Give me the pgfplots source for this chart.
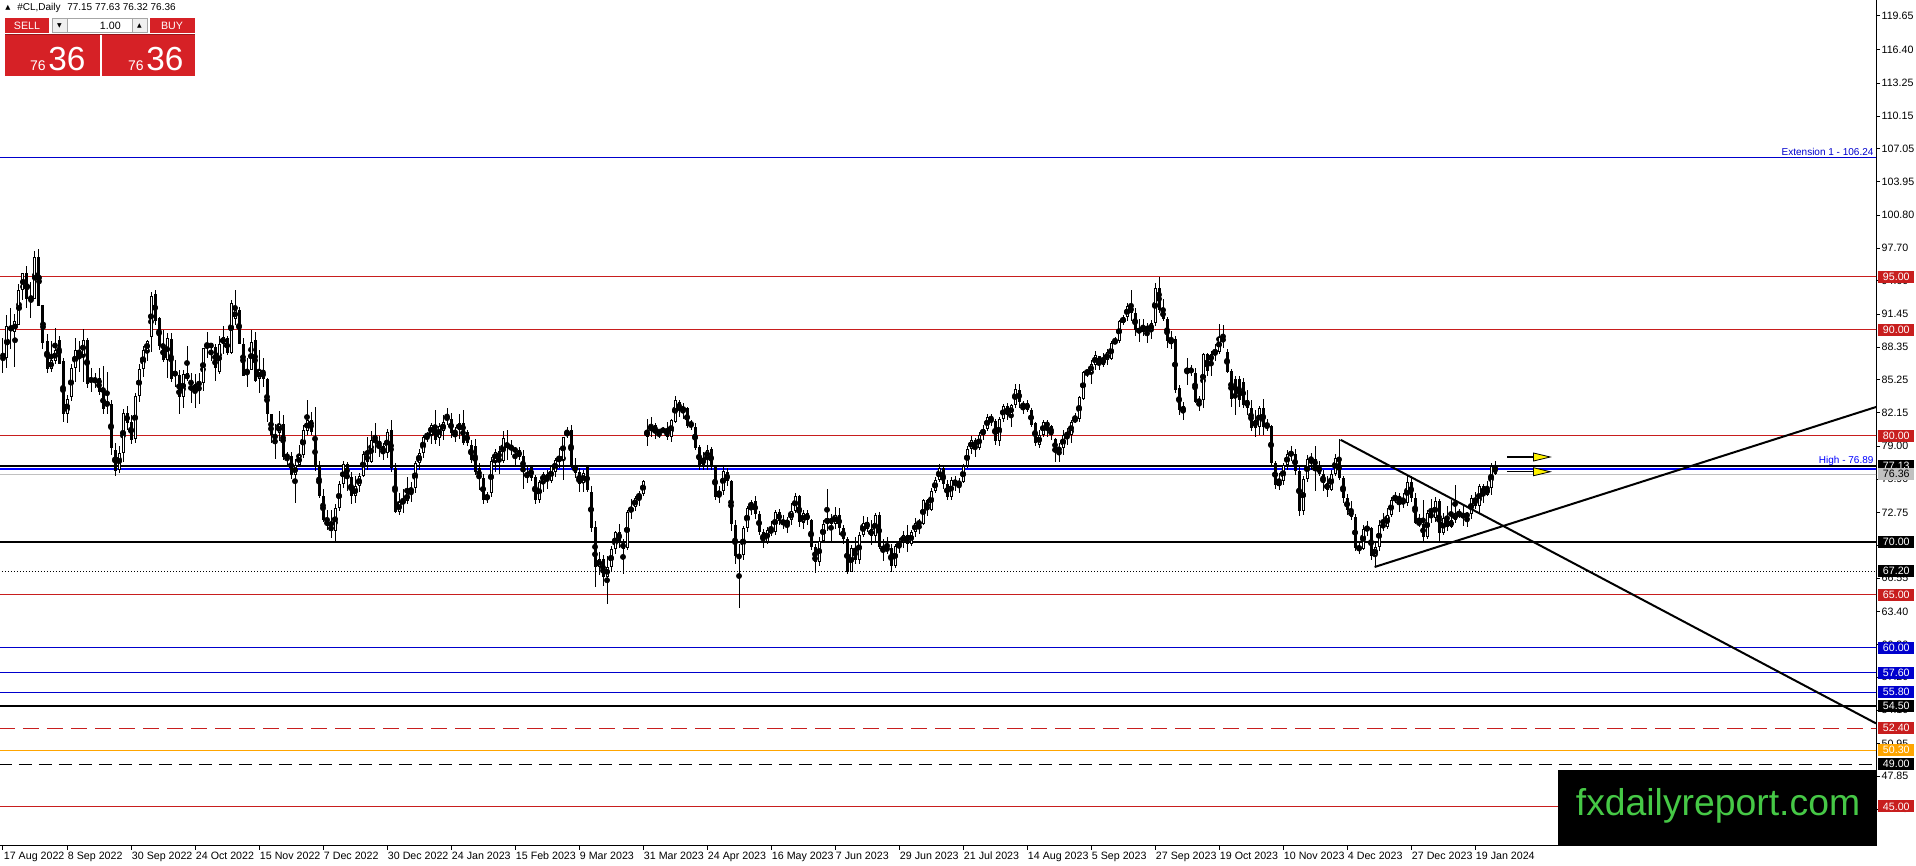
\documentclass[border=0pt]{standalone}
\usepackage{pgfplots}
\pgfplotsset{compat=1.18}
\usepackage{pgfplotstable}
\usepackage{fontspec}
\setmainfont{Liberation Sans}
\newfontfamily\dejavu{DejaVu Sans}
\definecolor{mtred}{RGB}{200,30,30}
\definecolor{panelred}{RGB}{214,33,38}
\definecolor{mtblue}{RGB}{0,0,205}
\definecolor{brblue}{RGB}{0,0,255}
\definecolor{wmgreen}{RGB}{70,200,70}
\definecolor{mtorange}{RGB}{255,165,0}
\definecolor{mtsilver}{RGB}{192,192,192}
\pgfplotstableread{
i o h l c
0 87.2 89.2 85.9 87.4
1 87.3 91.4 86.4 90.3
2 90.3 92.0 88.2 90.0
3 89.8 91.5 86.5 90.8
4 90.4 94.3 90.4 93.7
5 93.7 95.3 92.8 95.3
6 95.3 96.0 92.0 92.9
7 93.0 94.5 91.1 92.95
8 92.9 97.4 92.9 96.9
9 96.9 97.6 92.2 92.2
10 92.3 92.3 88.2 88.7
11 88.9 89.6 85.9 86.3
12 86.3 88.9 86.0 87.1
13 87.0 90.2 86.8 88.1
14 89.0 89.4 86.8 86.8
15 87.0 87.3 81.3 82.0
16 82.0 83.8 81.2 83.5
17 83.6 86.8 83.3 86.4
18 86.4 89.2 85.1 88.1
19 88.1 88.9 86.0 87.6
20 87.6 90.1 85.1 89.0
21 89.0 89.2 84.5 84.9
22 85.1 86.4 84.1 85.4
23 85.2 85.9 84.5 85.3
24 85.4 86.4 83.8 84.1
25 84.1 86.6 82.0 82.5
26 82.8 86.0 82.0 83.2
27 83.0 83.4 78.2 78.8
28 78.6 79.3 76.2 76.7
29 76.8 79.0 76.5 78.4
30 78.4 82.5 77.5 82.1
31 82.1 82.8 80.5 81.2
32 81.3 81.9 79.2 79.6
33 79.7 84.0 79.3 83.7
34 83.7 86.8 83.2 86.3
35 86.3 88.5 85.5 88.1
36 88.0 89.0 87.0 88.9
37 89.3 93.6 87.9 93.2
38 93.4 93.7 90.4 90.8
39 91.1 91.2 88.1 88.5
40 88.6 90.0 86.9 87.1
41 87.1 89.7 85.4 89.2
42 89.1 89.7 85.1 85.3
43 86.1 87.1 84.6 85.6
44 85.7 86.2 82.0 83.6
45 83.6 86.2 82.6 85.8
46 85.9 88.5 85.2 85.3
47 85.1 85.9 83.1 84.9
48 84.2 85.8 82.6 84.9
49 84.8 85.9 83.0 85.0
50 85.0 88.3 84.2 88.3
51 88.3 89.8 87.3 88.6
52 88.7 88.7 87.0 88.3
53 88.4 88.6 85.2 86.4
54 86.0 89.4 85.8 88.6
55 88.6 90.3 87.7 89.3
56 89.2 89.4 87.6 87.8
57 87.8 92.8 87.7 92.5
58 91.0 93.7 90.4 91.9
59 91.9 92.1 88.6 88.6
60 88.6 89.2 85.6 85.6
61 85.9 87.3 84.6 86.2
62 86.2 90.0 86.2 88.8
63 89.0 89.8 85.1 85.2
64 85.3 88.1 84.0 86.2
65 86.2 87.3 84.6 85.3
66 85.3 85.4 81.3 82.0
67 82.0 82.0 79.3 80.1
68 80.0 81.1 77.8 79.8
69 80.2 82.3 79.5 81.1
70 81.1 81.9 77.7 78.0
71 78.0 78.5 77.2 78.1
72 78.1 78.5 75.9 76.3
73 76.3 77.8 73.6 77.2
74 77.2 79.1 77.0 78.2
75 78.2 81.0 77.9 80.5
76 80.4 83.4 80.1 81.5
77 81.5 82.2 80.1 80.3
78 79.9 82.7 76.7 77.0
79 77.0 77.6 74.1 74.3
80 74.3 75.0 71.8 72.0
81 72.0 73.0 71.1 71.5
82 71.5 73.0 70.3 71.0
83 71.0 73.5 70.1 73.2
84 73.2 75.7 72.9 75.4
85 75.4 77.6 75.1 77.3
86 77.3 77.5 74.8 76.1
87 76.1 76.6 73.5 74.3
88 74.3 76.2 73.6 75.2
89 75.2 76.5 74.7 76.2
90 76.2 78.5 76.1 78.3
91 78.3 79.9 76.8 77.5
92 77.5 80.4 77.4 79.6
93 79.6 81.2 78.4 79.5
94 79.5 80.0 78.0 79.0
95 79.0 79.3 77.7 78.4
96 78.4 80.6 77.9 80.3
97 80.5 81.5 76.6 76.9
98 76.9 77.4 72.7 72.8
99 72.8 74.6 72.5 73.7
100 73.7 75.0 72.7 73.8
101 73.8 76.1 73.5 74.6
102 74.6 75.6 73.7 75.1
103 75.1 77.6 74.6 77.4
104 77.4 78.7 76.8 78.4
105 78.4 80.1 77.9 79.9
106 79.9 80.3 79.4 80.1
107 80.1 81.2 79.2 81.0
108 81.0 82.4 79.2 79.6
109 79.8 81.2 79.0 80.9
110 80.4 81.9 79.6 81.3
111 81.5 82.6 81.0 81.8
112 81.6 82.1 79.8 80.2
113 80.2 80.8 79.4 80.4
114 80.5 82.0 79.7 81.2
115 81.2 82.4 79.1 79.3
116 80.3 80.5 79.0 79.3
117 79.1 79.6 77.4 77.7
118 79.0 79.7 76.3 76.6
119 76.9 77.4 74.9 76.0
120 76.0 76.4 73.5 73.9
121 74.0 74.7 73.6 74.4
122 74.6 78.0 74.2 77.6
123 77.6 78.7 76.6 78.5
124 78.5 79.0 76.4 77.8
125 77.6 80.4 77.4 79.8
126 79.0 80.5 77.7 79.2
127 79.0 79.6 78.2 78.7
128 78.8 78.9 77.2 78.5
129 78.6 78.9 77.7 78.0
130 78.1 78.6 75.0 76.6
131 76.5 77.0 75.5 76.1
132 77.1 77.2 75.7 76.0
133 76.1 76.3 73.5 73.9
134 73.9 75.8 73.6 75.6
135 75.6 76.6 74.7 76.4
136 76.4 76.8 75.0 75.7
137 75.7 77.2 75.5 77.1
138 76.6 77.9 76.1 77.7
139 77.6 78.8 76.9 77.9
140 77.7 79.9 75.8 79.9
141 80.0 80.8 79.8 80.4
142 80.5 81.0 76.9 77.1
143 77.2 77.9 76.0 76.5
144 76.6 76.9 74.7 75.4
145 75.5 76.8 74.7 76.5
146 77.0 77.2 74.7 74.9
147 74.7 75.2 70.9 71.3
148 71.4 71.9 65.7 67.6
149 67.6 69.0 66.8 68.4
150 68.4 68.7 65.8 66.7
151 66.7 68.6 64.1 67.6
152 67.6 69.6 67.2 69.3
153 69.3 71.0 68.8 70.9
154 70.9 71.7 69.4 70.0
155 69.9 70.2 66.9 69.3
156 69.4 73.0 69.2 72.8
157 72.8 74.0 72.1 73.2
158 73.3 74.3 72.9 74.1
159 74.1 74.8 73.4 74.5
160 74.5 75.8 74.3 75.7
161 79.9 81.6 79.0 80.5
162 80.4 81.8 79.9 81.0
163 81.0 81.2 79.7 80.3
164 80.4 80.5 79.8 80.35
165 80.4 80.8 80.2 80.6
166 80.5 81.3 79.6 79.9
167 79.9 81.6 79.4 81.5
168 81.3 83.7 81.2 83.4
169 83.2 83.4 81.8 82.4
170 82.3 83.1 81.6 82.7
171 82.6 82.7 80.7 80.9
172 81.3 81.5 80.5 80.9
173 80.8 81.2 78.6 78.8
174 78.9 79.1 76.8 77.1
175 77.2 78.5 76.8 77.9
176 77.9 79.1 76.8 78.6
177 78.7 78.9 76.8 77.1
178 77.1 77.2 73.9 74.2
179 74.3 75.2 73.6 74.8
180 74.8 77.0 74.4 76.7
181 76.6 76.9 75.2 75.7
182 75.7 75.8 71.0 71.7
183 71.6 72.0 67.9 68.6
184 68.5 69.8 63.7 68.7
185 68.7 71.5 68.3 71.3
186 71.3 73.4 70.9 73.2
187 73.2 73.9 72.5 73.7
188 73.8 74.3 72.1 72.6
189 72.6 72.9 70.6 70.9
190 70.9 71.2 69.4 70.0
191 70.0 71.4 69.8 71.1
192 71.1 71.9 70.5 70.9
193 70.9 73.0 70.6 72.8
194 72.8 73.1 71.6 71.9
195 71.9 72.5 71.2 71.7
196 71.6 72.3 70.8 72.0
197 72.0 73.6 71.6 72.9
198 72.9 74.6 72.7 74.3
199 74.3 74.4 71.4 71.8
200 71.8 73.0 71.2 72.7
201 72.7 73.0 71.6 72.0
202 72.0 72.1 69.2 69.5
203 69.5 69.8 67.0 68.1
204 68.1 70.4 67.7 70.1
205 70.1 72.0 69.9 71.7
206 71.7 75.0 71.0 72.2
207 72.2 72.6 70.0 71.7
208 71.7 73.3 71.2 72.5
209 72.5 73.2 70.6 71.3
210 71.3 71.6 69.8 70.2
211 70.2 70.4 66.9 67.1
212 67.1 69.7 67.1 69.4
213 69.4 70.4 67.9 68.3
214 68.3 70.9 67.9 70.6
215 70.6 72.4 70.4 71.8
216 71.8 72.3 70.9 71.2
217 71.2 72.0 69.7 70.5
218 70.5 72.7 70.0 72.5
219 72.5 72.8 69.3 69.5
220 69.5 70.2 68.2 69.2
221 69.2 70.4 68.8 69.4
222 69.4 69.8 67.1 67.7
223 67.7 69.8 67.5 69.6
224 69.6 70.3 68.9 69.9
225 69.9 71.0 69.4 70.6
226 70.6 71.6 69.0 69.8
227 69.8 71.1 69.6 70.9
228 70.9 72.2 70.4 71.8
229 71.8 72.1 70.7 71.7
230 71.7 74.0 71.6 73.9
231 73.9 74.0 72.4 73.0
232 73.0 75.1 72.9 74.8
233 74.8 76.1 74.6 75.8
234 75.8 77.3 75.6 76.9
235 76.9 77.0 75.0 75.4
236 75.4 75.8 73.9 74.2
237 74.2 76.1 73.9 75.8
238 75.8 76.2 74.8 75.4
239 75.4 76.0 74.6 75.6
240 75.6 77.3 75.5 77.1
241 77.1 79.0 76.9 78.7
242 78.7 80.0 78.3 79.6
243 79.6 79.8 78.0 78.8
244 78.8 80.3 78.6 80.1
245 80.1 81.0 79.6 80.6
246 80.6 82.0 80.4 81.8
247 81.8 82.0 80.9 81.4
248 81.4 81.6 79.1 79.5
249 79.5 81.8 79.0 81.6
250 81.6 83.0 81.3 82.8
251 82.8 83.1 81.5 81.9
252 81.9 83.0 80.8 82.9
253 82.9 84.9 82.6 84.4
254 84.3 84.9 82.6 83.2
255 82.7 83.3 82.0 83.0
256 83.1 83.4 82.2 82.4
257 82.4 82.6 80.8 81.0
258 81.2 81.3 79.0 79.3
259 79.1 80.5 78.8 80.1
260 80.1 81.5 79.9 81.3
261 81.3 81.5 79.9 80.8
262 80.9 81.0 79.6 80.1
263 79.7 79.8 77.5 78.5
264 78.6 79.3 77.5 78.8
265 78.8 80.5 78.2 80.1
266 80.2 80.7 79.1 80.0
267 80.1 81.5 79.3 81.3
268 81.3 82.1 81.2 81.7
269 81.6 83.7 81.3 83.6
270 83.5 86.1 83.4 86.0
271 85.9 86.3 85.5 86.1
272 85.9 87.1 84.9 86.8
273 86.7 88.0 86.2 87.6
274 87.5 87.5 86.2 86.7
275 86.7 87.8 86.5 87.3
276 87.1 88.2 86.7 87.9
277 87.2 88.9 87.1 88.7
278 88.7 89.3 88.6 89.0
279 88.9 90.9 88.7 90.8
280 90.6 91.4 90.4 91.2
281 91.2 92.5 90.8 92.2
282 92.2 93.7 90.8 91.6
283 91.6 92.0 89.4 90.0
284 90.0 91.0 88.8 89.8
285 89.8 91.0 89.4 90.3
286 90.3 90.6 88.7 89.9
287 89.9 90.9 89.1 90.6
288 90.6 94.4 90.3 93.9
289 93.9 95.0 91.6 91.9
290 91.9 92.9 90.8 91.0
291 91.0 91.2 88.3 88.9
292 88.6 89.9 88.2 89.2
293 89.1 89.4 84.0 84.3
294 84.5 84.8 81.9 82.4
295 82.2 83.2 81.5 82.8
296 85.9 87.3 84.8 86.4
297 86.4 86.7 85.6 85.9
298 85.9 86.4 83.1 83.2
299 83.1 83.7 82.3 83.4
300 83.4 87.8 82.6 87.7
301 87.7 87.8 85.6 86.1
302 87.0 88.0 85.6 87.7
303 87.7 88.6 87.0 88.1
304 87.9 90.5 87.7 89.3
305 89.3 90.4 88.3 88.8
306 87.9 88.2 85.9 86.0
307 86.1 86.3 82.7 83.5
308 85.3 85.6 81.9 83.7
309 85.3 85.6 82.7 83.4
310 85.1 85.4 82.6 82.9
311 83.4 84.3 81.9 82.6
312 82.6 83.4 80.4 80.7
313 81.5 82.4 79.9 80.7
314 80.8 82.8 80.1 82.6
315 82.6 83.5 80.1 80.8
316 81.0 81.6 80.4 80.8
317 80.9 81.0 77.2 77.4
318 77.4 77.6 75.0 75.3
319 75.3 76.5 74.9 75.7
320 75.7 77.4 75.3 77.2
321 77.2 78.6 76.8 78.3
322 78.3 79.0 77.6 78.25
323 78.3 78.7 76.3 76.7
324 76.7 77.1 72.4 72.9
325 72.9 76.2 72.5 75.9
326 75.9 78.2 75.6 77.8
327 77.8 78.4 76.8 77.75
328 77.8 79.0 74.8 77.1
329 77.1 77.6 76.2 76.4
330 76.4 76.8 74.8 75.5
331 75.5 76.2 74.2 74.9
332 74.9 76.8 74.8 76.4
333 76.4 78.3 76.2 77.9
334 77.9 79.7 75.8 76.0
335 76.0 76.2 73.6 74.1
336 74.1 74.5 72.5 73.0
337 73.0 73.8 72.0 72.3
338 72.3 72.6 69.1 69.4
339 69.4 70.0 68.8 69.3
340 69.3 71.6 69.2 71.2
341 71.2 71.9 70.5 71.3
342 71.3 71.4 68.3 68.6
343 68.6 69.9 67.7 69.5
344 69.5 72.0 69.1 71.6
345 71.6 72.7 71.0 71.4
346 71.4 73.2 71.2 72.5
347 72.5 74.2 72.3 73.9
348 73.9 74.7 73.6 74.2
349 74.2 74.6 72.8 73.9
350 73.9 74.6 73.2 73.6
351 73.6 76.2 73.4 75.6
352 75.6 76.2 73.7 74.1
353 74.1 74.6 71.7 71.8
354 71.8 72.6 71.4 71.7
355 71.7 73.9 70.1 70.4
356 70.4 73.0 70.2 72.7
357 72.7 74.0 71.8 72.2
358 72.2 74.2 71.8 73.8
359 73.8 74.0 70.1 70.8
360 70.8 72.7 70.6 72.2
361 72.2 73.4 71.0 71.4
362 71.4 73.9 71.3 72.0
363 72.0 75.3 71.8 72.7
364 72.7 73.1 72.2 72.5
365 72.5 73.4 71.5 72.4
366 72.4 72.8 71.4 72.6
367 72.6 74.4 72.1 74.1
368 74.1 74.7 73.1 73.4
369 73.4 75.4 72.6 75.2
370 75.2 75.4 73.6 74.4
371 74.4 75.7 74.3 75.1
372 75.1 77.4 74.4 77.1
373 77.15 77.63 76.32 76.36
}\candles
\newcommand\lvlbox[4]{\node[fill=#2,text=#3,inner sep=0pt,minimum width=27pt,minimum height=9pt,anchor=west,font=\fontsize{8}{9}\selectfont] at (1878,{(121.11-#1)*10.596}) {#4};}
\begin{document}
\begin{tikzpicture}
\useasboundingbox (0,-15pt) rectangle (1437pt,634.5pt);
\begin{axis}[
  scale only axis, width=1407pt, height=634.5pt,
  xmin=-0.75, xmax=468.25, ymin=41.27, ymax=121.11,
  clip mode=individual,
  axis line style={black, line width=0.75pt},
  tick align=outside, major tick length=3pt,
  tick style={black, line width=0.75pt},
  xtick pos=left, ytick pos=right, yticklabel pos=right,
  xtick={0,16,32,48,64,80,96,112,128,144,160,176,192,208,224,240,256,272,288,304,320,336,352,368},
  xticklabels={17 Aug 2022,8 Sep 2022,30 Sep 2022,24 Oct 2022,15 Nov 2022,7 Dec 2022,30 Dec 2022,24 Jan 2023,15 Feb 2023,9 Mar 2023,31 Mar 2023,24 Apr 2023,16 May 2023,7 Jun 2023,29 Jun 2023,21 Jul 2023,14 Aug 2023,5 Sep 2023,27 Sep 2023,19 Oct 2023,10 Nov 2023,4 Dec 2023,27 Dec 2023,19 Jan 2024},
  xticklabel style={anchor=north west, inner sep=1pt, xshift=-0.5pt, font=\fontsize{8}{9}\selectfont},
  ytick={119.65,116.40,113.25,110.15,107.05,103.95,100.80,97.70,94.60,91.45,88.35,85.25,82.15,79.00,75.90,72.75,69.65,66.55,63.40,60.30,57.20,54.10,50.95,47.85,44.75},
  yticklabels={119.65,116.40,113.25,110.15,107.05,103.95,100.80,97.70,94.60,91.45,88.35,85.25,82.15,79.00,75.90,72.75,69.65,66.55,63.40,60.30,57.20,54.10,50.95,47.85,44.75},
  yticklabel style={inner sep=1pt, font=\fontsize{8}{9}\selectfont},
]
% horizontal levels
\addplot[mtblue, line width=0.75pt] coordinates {(-1,106.24) (470,106.24)};
\addplot[mtred, line width=0.75pt] coordinates {(-1,95) (470,95)};
\addplot[mtred, line width=0.75pt] coordinates {(-1,90) (470,90)};
\addplot[mtred, line width=0.75pt] coordinates {(-1,80) (470,80)};
\addplot[black, line width=1.5pt] coordinates {(-1,77.13) (470,77.13)};
\addplot[brblue, line width=1.5pt] coordinates {(-1,76.89) (470,76.89)};
\addplot[mtsilver, line width=0.75pt] coordinates {(-1,76.36) (470,76.36)};
\addplot[black, line width=1.5pt] coordinates {(-1,70) (470,70)};
\addplot[black, line width=0.75pt, dash pattern=on 0.75pt off 1.5pt] coordinates {(-1,67.2) (470,67.2)};
\addplot[mtred, line width=0.75pt] coordinates {(-1,65) (470,65)};
\addplot[mtblue, line width=0.75pt] coordinates {(-1,60) (470,60)};
\addplot[mtblue, line width=0.75pt] coordinates {(-1,57.6) (470,57.6)};
\addplot[mtblue, line width=0.75pt] coordinates {(-1,55.8) (470,55.8)};
\addplot[black, line width=1.5pt] coordinates {(-1,54.5) (470,54.5)};
\addplot[mtred, line width=0.75pt, dash pattern=on 12pt off 6pt] coordinates {(-1,52.4) (470,52.4)};
\addplot[mtorange, line width=0.75pt] coordinates {(-1,50.3) (470,50.3)};
\addplot[black, line width=0.75pt, dash pattern=on 10pt off 5pt] coordinates {(-1,49) (470,49)};
\addplot[mtred, line width=0.75pt] coordinates {(-1,45) (470,45)};
% wicks
\addplot[only marks, mark=none, error bars/.cd, y dir=both, y explicit, error mark=none,
  error bar style={line width=0.75pt, black, solid}]
  table[x=i, y expr={(\thisrow{h}+\thisrow{l})/2}, y error expr={(\thisrow{h}-\thisrow{l})/2}] {\candles};
% bodies
\addplot[only marks, mark=none, error bars/.cd, y dir=both, y explicit, error mark=none,
  error bar style={line width=2.25pt, black, solid, line cap=butt}]
  table[x=i, y expr={(\thisrow{o}+\thisrow{c})/2}, y error expr={max(abs(\thisrow{o}-\thisrow{c})/2,0.05)}] {\candles};
% bull interiors
\addplot[only marks, mark=none, error bars/.cd, y dir=both, y explicit, error mark=none,
  error bar style={line width=0.75pt, white, solid, line cap=butt}]
  table[x=i, y expr={((\thisrow{c}-\thisrow{o})>0.3) ? ((\thisrow{o}+\thisrow{c})/2) : 200},
        y error expr={((\thisrow{c}-\thisrow{o})>0.3) ? ((\thisrow{c}-\thisrow{o})/2-0.095) : 0}] {\candles};
% trend lines
\addplot[black, line width=1.5pt] coordinates {(334.4,79.6) (468.25,52.84)};
\addplot[black, line width=1.5pt] coordinates {(342.9,67.6) (468.25,82.7)};
% arrows
\draw[black, line width=1pt] (axis cs:376,77.98) -- (axis cs:382.8,77.98);
\filldraw[fill=yellow, draw=black, line width=0.6pt] (axis cs:382.6,78.36) -- (axis cs:386.8,77.98) -- (axis cs:382.6,77.60) -- cycle;
\draw[black, line width=1pt] (axis cs:376,76.59) -- (axis cs:382.8,76.59);
\filldraw[fill=yellow, draw=black, line width=0.6pt] (axis cs:382.6,76.97) -- (axis cs:386.8,76.59) -- (axis cs:382.6,76.21) -- cycle;
\end{axis}
\begin{scope}[x=0.75pt,y=-0.75pt,yshift=634.5pt]
% texts in plot
\node[anchor=south east, inner sep=1pt, text=mtblue, font=\fontsize{7.5}{9}\selectfont] at (1875,157) {Extension 1 - 106.24};
\node[anchor=south east, inner sep=1pt, text=brblue, font=\fontsize{7.5}{9}\selectfont] at (1875,467) {High - 76.89};
% level boxes
\lvlbox{95}{mtred}{white}{95.00}
\lvlbox{90}{mtred}{white}{90.00}
\lvlbox{80}{mtred}{white}{80.00}
\lvlbox{76.89}{brblue}{white}{76.89}
\lvlbox{77.13}{black}{white}{77.13}
\lvlbox{76.36}{mtsilver}{black}{76.36}
\lvlbox{70}{black}{white}{70.00}
\lvlbox{67.2}{black}{white}{67.20}
\lvlbox{65}{mtred}{white}{65.00}
\lvlbox{60}{mtblue}{white}{60.00}
\lvlbox{57.6}{mtblue}{white}{57.60}
\lvlbox{55.8}{mtblue}{white}{55.80}
\lvlbox{54.5}{black}{white}{54.50}
\lvlbox{52.4}{mtred}{white}{52.40}
\lvlbox{50.3}{mtorange}{white}{50.30}
\lvlbox{49}{black}{white}{49.00}
\lvlbox{45}{mtred}{white}{45.00}
% watermark
\fill[black] (1558,770) rectangle (1876,846);
\node[text=wmgreen, font=\fontsize{28}{30}\selectfont] at (1718,806) {fxdailyreport.com};
% header
\node[anchor=west, inner sep=0pt, font=\dejavu\fontsize{5}{6}\selectfont] at (5,8) {▲};
\node[anchor=west, inner sep=0pt, font=\fontsize{7.5}{9}\selectfont] at (17,8) {\#CL,Daily\hspace{5pt}77.15 77.63 76.32 76.36};
% one-click panel
\fill[panelred] (5,18) rectangle (49,33);
\fill[panelred] (150,18) rectangle (195,33);
\draw[gray!70, fill=gray!12] (52,18.5) rectangle (67,32.5);
\draw[gray!70, fill=white] (67,18.5) rectangle (132,32.5);
\draw[gray!70, fill=gray!12] (132,18.5) rectangle (147,32.5);
\node[font=\dejavu\fontsize{4.5}{5}\selectfont] at (59.5,25.5) {▼};
\node[font=\dejavu\fontsize{4.5}{5}\selectfont] at (139.5,25.5) {▲};
\node[anchor=east, inner sep=0pt, font=\fontsize{8}{9}\selectfont] at (121,25.5) {1.00};
\node[text=white, font=\fontsize{8}{9}\selectfont] at (27,25.5) {SELL};
\node[text=white, font=\fontsize{8}{9}\selectfont] at (172,25.5) {BUY};
\fill[panelred] (5,35) rectangle (100,76);
\fill[panelred] (102,35) rectangle (195,76);
\draw[panelred!70!black, line width=0.5pt] (5,34) -- (195,34);
\node[anchor=base east, inner sep=0pt, text=white, font=\fontsize{10.5}{12}\selectfont] at (46,71) {76};
\node[anchor=base west, inner sep=0pt, text=white, font=\fontsize{25}{28}\selectfont] at (48,71) {36};
\node[anchor=base east, inner sep=0pt, text=white, font=\fontsize{10.5}{12}\selectfont] at (144,71) {76};
\node[anchor=base west, inner sep=0pt, text=white, font=\fontsize{25}{28}\selectfont] at (146,71) {36};
\end{scope}
\end{tikzpicture}
\end{document}
